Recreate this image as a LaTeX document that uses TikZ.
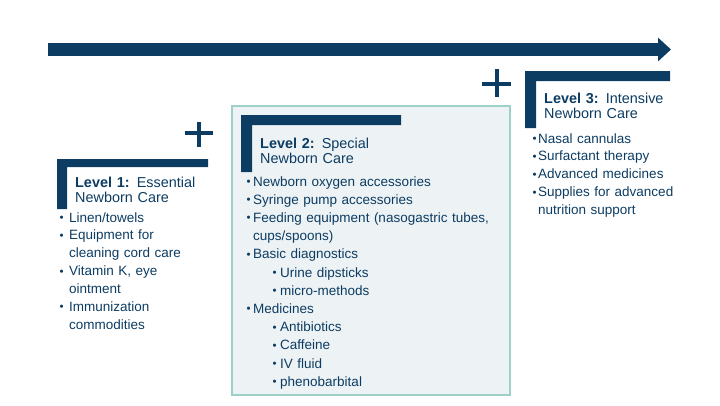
\documentclass[tikz,border=0pt]{standalone}
\usepackage{fontspec}
\setmainfont{Liberation Sans}
\usetikzlibrary{arrows.meta,positioning}

\definecolor{navy}{HTML}{0C3C62}
\definecolor{boxfill}{HTML}{EDF2F5}
\definecolor{boxline}{HTML}{9DD0C8}

\newcommand{\bul}[1][6pt]{\makebox[#1][l]{\hspace*{-0.5pt}\fontsize{11.5}{11.5}\selectfont\raisebox{0.6pt}{•}}}
\newcommand{\cont}[1][6pt]{\hspace*{#1}}
\newcommand{\subbul}{\hspace*{26pt}\bul[7pt]}

\begin{document}
\begin{tikzpicture}[x=1pt, y=-1pt,
    title/.style={anchor=base west, inner sep=0pt, text=navy, text width=170pt, align=left, font=\fontsize{14.4}{15.5}\selectfont},
    items/.style={anchor=base west, inner sep=0pt, text=navy, text width=260pt, align=left, font=\fontsize{13.5}{17.9}\selectfont},
    bracket/.style={fill=navy},
    plus/.style={draw=navy, line width=4pt},
    midbox/.style={draw=boxline, fill=boxfill, line width=1.8pt, inner sep=0pt, anchor=north west}
]
    \useasboundingbox (0,0) rectangle (720,405);

    % timeline arrow
    \coordinate (tstart) at (48,49.5);
    \coordinate (tend) at (671,49.5);
    \draw[navy, line width=13.5pt, -{Triangle[length=13pt,width=23pt]}] (tstart) -- (tend);

    % level 2 background box
    \node[midbox, minimum width=278, minimum height=289] (box2) at (231,105) {};

    % brackets
    \fill[bracket] (57,159) -- (208,159) -- (208,167) -- (67,167) -- (67,209) -- (57,209) -- cycle;
    \fill[bracket] (241,115) -- (401,115) -- (401,125) -- (252,125) -- (252,172) -- (241,172) -- cycle;
    \fill[bracket] (525,71) -- (670,71) -- (670,81) -- (536,81) -- (536,128) -- (525,128) -- cycle;

    % plus signs
    \draw[plus] (185,133) -- (213,133) (199,122) -- (199,147);
    \draw[plus] (482,84) -- (511,84) (497,69) -- (497,97);

    % level 1
    \node[title] (title1) at (75,187) {\textbf{Level 1:} Essential\\Newborn Care};
    \node[items] (list1) at (60,222) {\bul[9pt]Linen/towels\\
        \bul[9pt]Equipment for\\
        \cont[9pt]cleaning cord care\\
        \bul[9pt]Vitamin K, eye\\
        \cont[9pt]ointment\\
        \bul[9pt]Immunization\\
        \cont[9pt]commodities};

    % level 2
    \node[title] (title2) at (260,148) {\textbf{Level 2:} Special\\Newborn Care};
    \node[items, font=\fontsize{13.5}{18.2}\selectfont] (list2) at (247,186) {\bul Newborn oxygen accessories\\
        \bul Syringe pump accessories\\
        \bul Feeding equipment (nasogastric tubes,\\
        \cont cups/spoons)\\
        \bul Basic diagnostics\\
        \subbul Urine dipsticks\\
        \subbul micro-methods\\
        \bul Medicines\\
        \subbul Antibiotics\\
        \subbul Caffeine\\
        \subbul IV fluid\\
        \subbul phenobarbital};

    % level 3
    \node[title] (title3) at (544,103) {\textbf{Level 3:} Intensive\\Newborn Care};
    \node[items] (list3) at (533,143) {\bul[5pt]Nasal cannulas\\
        \bul[5pt]Surfactant therapy\\
        \bul[5pt]Advanced medicines\\
        \bul[5pt]Supplies for advanced\\
        \cont[5pt]nutrition support};
\end{tikzpicture}
\end{document}
